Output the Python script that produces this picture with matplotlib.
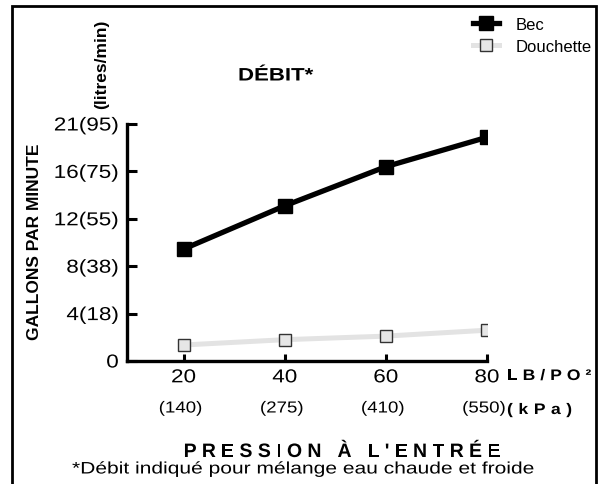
import matplotlib
matplotlib.use("Agg")
import matplotlib.pyplot as plt
import numpy as np
from matplotlib.patches import Rectangle
from matplotlib.patheffects import AbstractPathEffect
from matplotlib.transforms import Affine2D

plt.rcParams['font.family'] = ['Liberation Sans', 'DejaVu Sans']

pressure_psi = [20, 40, 60, 80]
pressure_kpa = ['(140)', '(275)', '(410)', '(550)']
y_ticks = [0, 4, 8, 12, 16, 21]
y_labels = ['0', '4(18)', '8(38)', '12(55)', '16(75)', '21(95)']
bec = [9.45, 13.1, 16.5, 19.6]
douchette = [1.35, 1.8, 2.1, 2.6]

W, H = 602, 485
fig = plt.figure(figsize=(W / 100, H / 100), dpi=100)


def fx(px):
    return px / W


def fy(py):
    return 1 - py / H


class Stretch(AbstractPathEffect):
    # widen glyphs along the baseline, the scan is wider than tall
    def __init__(self, sx, anchor='left'):
        super().__init__()
        self.sx = sx
        self.anchor = anchor

    def draw_path(self, renderer, gc, tpath, affine, rgbFace=None):
        ext = tpath.get_extents()
        x0 = {'left': 0, 'right': ext.x1, 'center': (ext.x0 + ext.x1) / 2}[self.anchor]
        t = Affine2D().translate(-x0, 0).scale(self.sx, 1).translate(x0, 0) + affine
        renderer.draw_path(gc, tpath, t, rgbFace)


ax = fig.add_axes([fx(127), fy(362), (487 - 127) / W, (362 - 125) / H])

# tick marks are evenly spaced although the values are not
pos = np.arange(len(y_ticks), dtype=float)
ax.set_yscale('function', functions=(lambda v: np.interp(v, y_ticks, pos),
                                     lambda p: np.interp(p, pos, y_ticks)))

ax.plot(pressure_psi, douchette, color='#e3e3e3', lw=3.6, marker='s', ms=9,
        mfc='#e6e6e6', mec='#333333', mew=1.0, label='Douchette', zorder=2)
ax.plot(pressure_psi, bec, color='black', lw=3.8, marker='s', ms=10,
        mfc='black', mec='black', label='Bec', zorder=3)

ax.set_xlim(8.8, 80)
ax.set_ylim(0, 21)
ax.set_xticks(pressure_psi)
ax.set_yticks(y_ticks)
ax.set_yticklabels(y_labels)
ax.tick_params(direction='in', width=2.2, labelsize=13.5, pad=6)
ax.tick_params(axis='y', length=7)
ax.tick_params(axis='x', length=5)
for s in ['top', 'right']:
    ax.spines[s].set_visible(False)
for s in ['left', 'bottom']:
    ax.spines[s].set_linewidth(2.4)
for t in ax.get_yticklabels():
    t.set_path_effects([Stretch(1.2, 'right')])
for t in ax.get_xticklabels():
    t.set_path_effects([Stretch(1.2, 'center')])

h, l = ax.get_legend_handles_labels()
leg = fig.legend(h[::-1], l[::-1], loc='upper left', bbox_to_anchor=(fx(466), fy(11)),
                 frameon=False, fontsize=12, handlelength=1.6, handletextpad=0.95,
                 labelspacing=0.45, borderaxespad=0)

renderer = fig.canvas.get_renderer()


def spaced(px, py, s, gap, sx=1.0, ha='left', **kw):
    # draw text with extra letter spacing (pixels), py is the baseline
    def width(t):
        if not t:
            return 0.0
        tt = fig.text(0, 0, t, **kw)
        w = tt.get_window_extent(renderer).width
        tt.remove()
        return w * sx
    starts = [width(s[:i + 1]) - width(s[i]) + i * gap for i in range(len(s))]
    total = starts[-1] + width(s[-1])
    x0 = px - total / 2 if ha == 'center' else px
    for ch, st in zip(s, starts):
        fig.text(fx(x0 + st), fy(py), ch, va='baseline', ha='left',
                 path_effects=[Stretch(sx)], **kw)


for x, lab in zip(pressure_psi, pressure_kpa):
    ax.annotate(lab, (x, 0), xycoords='data', xytext=(-3, -47),
                textcoords='offset pixels', ha='center', va='center', fontsize=11.5,
                path_effects=[Stretch(1.17, 'center')])

spaced(507, 381, 'LB/PO²', 5, sx=1.15, fontsize=11, fontweight='bold')
spaced(507, 415, '(kPa)', 5.5, sx=1.15, fontsize=11, fontweight='bold')
spaced(342, 458, "PRESSION À L'ENTRÉE", 5.3, ha='center', fontsize=14, fontweight='bold')

fig.text(fx(238), fy(77), 'DÉBIT*', fontsize=13, fontweight='bold', va='center',
         path_effects=[Stretch(1.23)])
fig.text(fx(102), fy(64), '(litres/min)', rotation=90, fontsize=12.5,
         fontweight='bold', ha='center', va='center')
fig.text(fx(35), fy(242), 'GALLONS PAR MINUTE', rotation=90, fontsize=12.5,
         fontweight='bold', ha='center', va='center')
fig.text(fx(72), fy(470), '*Débit indiqué pour mélange eau chaude et froide',
         fontsize=12, va='center', path_effects=[Stretch(1.26)])

fig.patches.append(Rectangle((fx(12), fy(495)), (596 - 12) / W, (495 - 7) / H,
                             transform=fig.transFigure, fill=False, lw=2, ec='black'))

fig.savefig('out.png', dpi=100)
